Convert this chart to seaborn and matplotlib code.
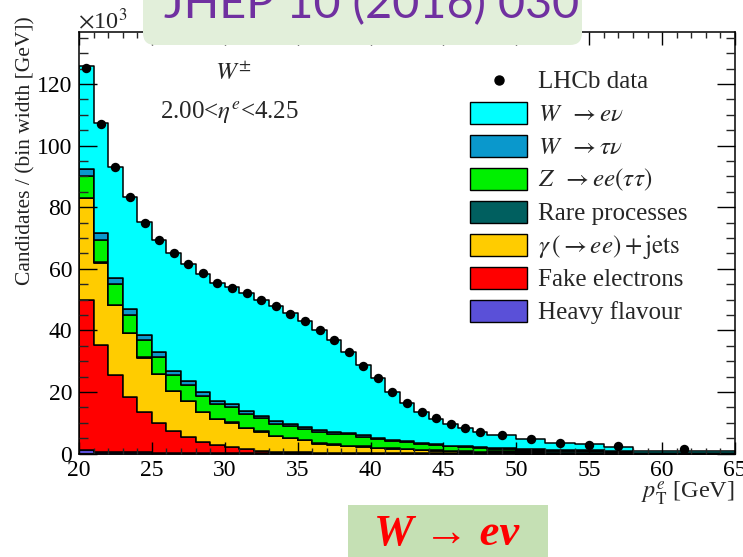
import numpy as np
import pandas as pd
import matplotlib
matplotlib.use("Agg")
import matplotlib.pyplot as plt
from matplotlib.patches import FancyBboxPatch, Rectangle
from matplotlib.lines import Line2D
from matplotlib.ticker import MultipleLocator
from matplotlib.transforms import IdentityTransform
import seaborn as sns

# Electron pT binning [GeV]
bin_edges = [20, 21, 22, 23, 24, 25, 26, 27, 28, 29, 30, 31, 32, 33, 34, 35,
             36, 37, 38, 39, 40, 41, 42, 43, 44, 45, 46, 47, 48, 50, 52, 54,
             56, 58, 65]

# Candidates per GeV, in units of 10^3
lhcb_data = [125.2, 106.9, 92.9, 83.2, 74.9, 69.3, 65.1, 61.4, 58.5, 55.4,
             53.8, 52.0, 49.7, 47.9, 45.4, 43.0, 40.1, 36.8, 33.1, 28.5,
             24.4, 19.9, 16.5, 13.5, 11.4, 9.7, 8.4, 7.1, 6.0, 4.6,
             3.5, 2.9, 2.3, 1.3]

w_enu = [33.6, 35.7, 36.0, 36.5, 36.4, 36.5, 38.2, 37.8, 38.5, 38.3,
         37.9, 38.3, 37.6, 37.5, 36.1, 34.4, 32.6, 29.8, 26.4, 22.7,
         19.2, 15.4, 12.6, 10.0, 8.4, 7.2, 6.1, 5.1, 4.3, 3.2,
         2.35, 1.9, 1.35, 0.6]

w_taunu = [2.3, 2.2, 2.1, 1.9, 1.8, 1.7, 1.6, 1.4, 1.3, 1.1,
           1.0, 0.95, 0.85, 0.8, 0.7, 0.65, 0.6, 0.55, 0.5, 0.45,
           0.4, 0.35, 0.3, 0.27, 0.24, 0.2, 0.18, 0.15, 0.12, 0.1,
           0.08, 0.06, 0.05, 0.02]

z_ee = [7.1, 7.2, 6.7, 5.9, 5.6, 5.3, 5.0, 5.0, 5.0, 4.9,
        4.9, 4.5, 4.2, 3.8, 3.7, 3.6, 3.6, 3.5, 3.6, 3.1,
        2.9, 2.5, 2.1, 2.0, 1.7, 1.4, 1.4, 1.2, 0.6, 0.45,
        0.35, 0.3, 0.2, 0.05]

rare = [0.1, 0.1, 0.1, 0.1, 0.1, 0.1, 0.1, 0.1, 0.1, 0.1,
        0.1, 0.1, 0.1, 0.12, 0.12, 0.12, 0.12, 0.15, 0.15, 0.15,
        0.15, 0.15, 0.15, 0.15, 0.15, 0.15, 0.15, 0.15, 0.4, 0.5,
        0.5, 0.5, 0.5, 0.2]

gamma_jets = [33.1, 26.8, 22.7, 20.5, 17.8, 16.0, 13.0, 11.6, 9.7, 8.3,
              8.0, 6.8, 6.2, 5.1, 4.5, 3.9, 2.9, 2.6, 2.25, 2.1,
              1.6, 1.4, 1.3, 1.0, 0.8, 0.7, 0.55, 0.45, 0.5, 0.3,
              0.2, 0.15, 0.1, 0.03]

fake_e = [48.7, 34.6, 25.0, 18.1, 13.0, 9.5, 7.0, 5.3, 3.6, 2.65,
          1.9, 1.3, 0.8, 0.55, 0.4, 0.3, 0.25, 0.2, 0.15, 0.12,
          0.1, 0.08, 0.07, 0.06, 0.05, 0.04, 0.03, 0.03, 0.05, 0.03,
          0.02, 0.02, 0.01, 0.01]

heavy_flavour = [1.1, 0.6, 0.45, 0.4, 0.35, 0.3, 0.25, 0.2, 0.18, 0.15,
                 0.12, 0.1, 0.08, 0.07, 0.06, 0.05, 0.04, 0.03, 0.03, 0.02,
                 0.02, 0.02, 0.01, 0.01, 0.01, 0.01, 0.01, 0.01, 0.01, 0.0,
                 0.0, 0.0, 0.0, 0.0]

processes = ["W->enu", "W->taunu", "Z->ee", "Rare", "gamma+jets", "Fake", "HF"]
process_values = [w_enu, w_taunu, z_ee, rare, gamma_jets, fake_e, heavy_flavour]
process_colors = ["#00FFFF", "#0A98CC", "#00F000", "#005F5F", "#FFCC00",
                  "#FF0000", "#5A50D8"]
legend_labels = ["LHCb data",
                 r"$W\;\;\rightarrow e\nu$",
                 r"$W\;\;\rightarrow \tau\nu$",
                 r"$Z\;\;\rightarrow ee(\tau\tau)$",
                 "Rare processes",
                 r"$\gamma\,(\rightarrow ee) + \mathrm{jets}$",
                 "Fake electrons",
                 "Heavy flavour"]

# ---------------------------------------------------------------------------
sns.set_theme(style="ticks")
plt.rcParams["font.family"] = ["Liberation Serif", "DejaVu Serif"]
plt.rcParams["mathtext.fontset"] = "stix"

W, H = 743, 557
fig = plt.figure(figsize=(W / 100, H / 100), dpi=100)
fig.patch.set_facecolor("white")


def fx(x):
    return x / W


def fy(y):
    return 1 - y / H


x0, x1, y0, y1 = 79, 735, 453.5, 31.7
ax = fig.add_axes([fx(x0), fy(y0), (x1 - x0) / W, (y0 - y1) / H])

centers = [0.5 * (a + b) for a, b in zip(bin_edges[:-1], bin_edges[1:])]

rows = []
for name, vals in zip(processes, process_values):
    for c, v in zip(centers, vals):
        rows.append((name, c, v))
stack_df = pd.DataFrame(rows, columns=["process", "pt", "rate"])

# Stacked MC templates (first hue level ends up on top of the stack)
sns.histplot(data=stack_df, x="pt", weights="rate", hue="process",
             hue_order=processes, palette=process_colors, bins=bin_edges,
             multiple="stack", element="step", stat="count", fill=True,
             alpha=1.0, edgecolor="black", linewidth=1.1, legend=False, ax=ax)

# Data points
sns.scatterplot(x=centers, y=lhcb_data, color="black", s=46, linewidth=0,
                zorder=5, legend=False, ax=ax)

ax.set_xlim(20, 65)
ax.set_ylim(0, 137)
ax.set_xlabel("")
ax.set_ylabel("")
ax.set_axisbelow(False)
ax.xaxis.set_major_locator(MultipleLocator(5))
ax.xaxis.set_minor_locator(MultipleLocator(1))
ax.yaxis.set_major_locator(MultipleLocator(20))
ax.yaxis.set_minor_locator(MultipleLocator(5))
for sp in ax.spines.values():
    sp.set_visible(True)
    sp.set_linewidth(1.1)
    sp.set_color("black")
ax.tick_params(axis="y", which="major", direction="in", length=13, width=1.0,
               right=True, labelsize=17, pad=5, colors="black")
ax.tick_params(axis="y", which="minor", direction="in", length=6.5, width=1.0,
               right=True)
ax.tick_params(axis="x", which="major", direction="in", length=9, width=1.0,
               top=True, labelsize=17, pad=5, colors="black")
ax.tick_params(axis="x", which="minor", direction="in", length=4.5, width=1.0,
               top=True)

# Axis titles and annotations
fig.text(fx(26), fy(16), "Candidates / (bin width [GeV])", rotation=90,
         ha="center", va="top", fontsize=15.5, color="#222222")
fig.text(fx(735), fy(498), r"$p_{\mathrm{T}}^{e}$ [GeV]", ha="right",
         va="baseline", fontsize=17.5)
fig.text(fx(78), fy(29), r"$\times$10$^{3}$", ha="left", va="baseline",
         fontsize=17.5)
fig.text(fx(215), fy(80), r"$W^{\pm}$", ha="left", va="baseline", fontsize=18)
fig.text(fx(160), fy(118), r"2.00<$\eta^{e}$<4.25", ha="left", va="baseline",
         fontsize=18)

# Legend
pitch = 32.95
for i, lab in enumerate(legend_labels):
    yc = 80 + pitch * i
    if i == 0:
        fig.add_artist(Line2D([fx(498.5)], [fy(yc)], marker="o", ls="none",
                              color="black", markersize=6.5,
                              transform=fig.transFigure))
    else:
        fig.add_artist(Rectangle((470, H - yc - 11), 57, 22,
                                 facecolor=process_colors[i - 1],
                                 edgecolor="black", linewidth=1.0,
                                 transform=IdentityTransform()))
    fig.text(fx(538), fy(yc + 8), lab, ha="left", va="baseline", fontsize=18)

# Reference banner and channel tag
fig.add_artist(FancyBboxPatch((143, H - 45), 439, 120,
                              boxstyle="round,pad=0,rounding_size=12",
                              facecolor="#E2EFDA", edgecolor="none",
                              transform=IdentityTransform()))
jhep = fig.text(fx(372), fy(18), "JHEP 10 (2016) 030", ha="center",
                va="baseline", fontsize=30, color="#7030A0",
                family=["Lato", "DejaVu Sans"])

fig.add_artist(Rectangle((348, 0), 200, H - 505, facecolor="#C5E0B4",
                         edgecolor="none", transform=IdentityTransform()))
tag = fig.text(fx(447), fy(545), "W → eν", ha="center", va="baseline",
               fontsize=20, color="#FF0000", fontweight="bold",
               fontstyle="italic",
               family=["Liberation Serif", "DejaVu Serif"])

fig.canvas.draw()
renderer = fig.canvas.get_renderer()
for t, target in ((jhep, 415), (tag, 145)):
    w = t.get_window_extent(renderer).width
    t.set_fontsize(t.get_fontsize() * target / w)

fig.savefig("out.png", dpi=100, facecolor="white")
